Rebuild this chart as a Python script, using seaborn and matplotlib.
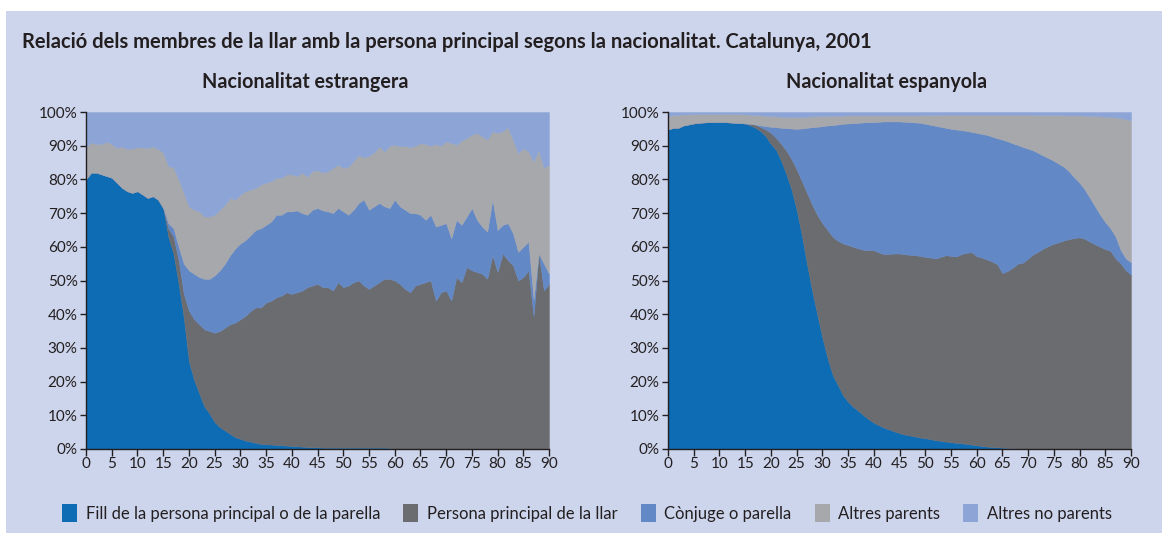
import numpy as np
import matplotlib
matplotlib.use("Agg")
import matplotlib.pyplot as plt
import matplotlib.patches as mpatches
import seaborn as sns

# Cumulative upper edge (%) of each layer, ages 0..90
edats = list(range(0, 91))

# Nacionalitat estrangera
estr_fill = [80, 82, 82, 81.5, 81, 80.5, 79, 77.5, 76.5, 76,
             76.5, 75.5, 74.5, 75, 74, 71.5, 63, 58, 49, 39,
             26, 20.5, 16.5, 12.6, 10.5, 8, 6.5, 5.5, 4.5, 3.5,
             3, 2.5, 2.2, 1.8, 1.5, 1.4, 1.3, 1.2, 1.1, 1,
             0.9, 0.8, 0.7, 0.6, 0.5, 0.5, 0.4, 0.4, 0.4, 0.4,
             0.4, 0.4, 0.4, 0.4, 0.4, 0.4, 0.4, 0.4, 0.4, 0.3,
             0, 0, 0, 0, 0, 0, 0, 0, 0, 0,
             0, 0, 0, 0, 0, 0, 0, 0, 0, 0,
             0, 0, 0, 0, 0, 0, 0, 0, 0, 0, 0]
estr_principal = [80, 82, 82, 81.5, 81, 80.5, 79, 77.5, 76.5, 76,
                  76.5, 75.5, 74.5, 75, 74, 71.5, 65.5, 63, 56, 46,
                  41, 38.5, 37, 35.5, 35, 34.5, 35, 36, 37, 37.5,
                  38.5, 39.5, 41, 42, 42, 43.5, 44, 45, 45.5, 46.5,
                  46, 46.5, 47, 48, 48.5, 49, 48, 48, 47, 49.5,
                  48, 48.5, 49.5, 50, 48.5, 47.5, 48.5, 49.5, 50.5, 50.5,
                  50, 49, 47.5, 46.5, 48.5, 49, 49.5, 50, 44, 46.5,
                  47, 44, 51, 49.5, 54, 53, 52.5, 52, 50.5, 57.5,
                  52.5, 58, 56, 54.5, 50, 51, 53, 39.5, 58, 47, 49]
estr_conjuge = [80, 82, 82, 81.5, 81, 80.5, 79, 77.5, 76.5, 76,
                76.5, 75.5, 74.5, 75, 74, 71.5, 67, 65.5, 60, 55,
                53, 52, 51, 50.5, 50.5, 51.5, 53, 55, 57.5, 59.5,
                61, 62, 63.5, 65, 65.5, 66.5, 67.5, 69.5, 69.5, 70.5,
                70.5, 70.8, 70, 69.5, 71, 71.5, 70.8, 70.5, 70, 71.5,
                70.5, 69.5, 71, 73, 74, 71, 72, 73, 72, 71.5,
                74, 72, 71, 70, 70, 69.5, 68, 69.5, 66, 66.5,
                67, 62.5, 68, 66.5, 69, 71.5, 68, 66, 64.5, 74,
                65, 66.5, 67, 64, 58.5, 60, 61.5, 44.5, 58, 55, 52]
estr_parents = [89.5, 91, 90.5, 90.5, 91.2, 90.5, 89.3, 89.8, 89, 89.2,
                89.5, 89.5, 89.3, 89.8, 89, 88, 84, 83.5, 80, 76,
                72, 71, 70.5, 69, 69, 69.5, 71, 72.5, 74.5, 74,
                75.5, 76.5, 77, 77.5, 78.5, 79, 79.5, 80.5, 80.5, 81.5,
                81.5, 81, 82, 80.8, 82.5, 82.7, 82, 82.4, 83.4, 84.4,
                83.4, 83.8, 85.5, 87.3, 86.5, 87, 88, 89.8, 88.3, 90,
                90.3, 89.8, 90, 89.5, 90, 90.8, 90.5, 90, 90.5, 90,
                91.3, 90.8, 90.3, 91.5, 92.3, 93.3, 93.8, 92.8, 91.8, 94.3,
                93.8, 94.3, 95.5, 91.8, 87.8, 89.3, 88.3, 85.3, 88.8, 83.4, 84.4]

# Nacionalitat espanyola
esp_fill = [94.8, 95.3, 95.3, 96, 96.3, 96.6, 96.8, 96.9, 97, 97,
            97, 97, 96.9, 96.8, 96.7, 96.6, 96, 95.3, 94.3, 92.8,
            90.5, 88.8, 85.5, 81.5, 77, 71, 63.5, 55, 47, 40,
            33, 27, 22, 19, 16, 14, 12.5, 11.3, 10, 8.8,
            7.8, 7, 6.3, 5.8, 5.2, 4.7, 4.3, 4, 3.7, 3.4,
            3.2, 2.9, 2.6, 2.4, 2.2, 2, 1.8, 1.7, 1.5, 1.3,
            1.1, 0.9, 0.7, 0.6, 0.5, 0.4, 0.3, 0.2, 0.15, 0.1,
            0, 0, 0, 0, 0, 0, 0, 0, 0, 0,
            0, 0, 0, 0, 0, 0, 0, 0, 0, 0, 0]
esp_principal = [94.8, 95.3, 95.3, 96, 96.3, 96.6, 96.8, 96.9, 97, 97,
                 97, 97, 96.9, 96.8, 96.7, 96.6, 96.5, 96.2, 95.5, 94.8,
                 93.8, 92.3, 90.5, 88.5, 86, 83, 79.5, 76, 72.5, 69.5,
                 67, 65, 63, 61.8, 61, 60.5, 60, 59.5, 59.1, 59,
                 59, 58.3, 57.8, 57.9, 58, 58, 57.8, 57.6, 57.5, 57.3,
                 57, 56.8, 56.5, 57, 57.5, 57.3, 57.1, 57.8, 58.2, 58.4,
                 57.2, 56.8, 56.2, 55.6, 54.8, 52.2, 52.8, 53.8, 55, 55.3,
                 56.5, 57.8, 58.6, 59.5, 60.3, 60.9, 61.4, 61.9, 62.3, 62.6,
                 62.8, 62.4, 61.5, 60.7, 60, 59.3, 58.8, 56.5, 55, 53, 51.7]
esp_conjuge = [94.8, 95.3, 95.3, 96, 96.3, 96.6, 96.8, 96.9, 97, 97,
               97, 97, 96.9, 96.8, 96.7, 96.6, 96.5, 96.3, 96, 95.8,
               95.6, 95.5, 95.3, 95.2, 95.1, 95, 95.1, 95.3, 95.5, 95.6,
               95.8, 96, 96.1, 96.3, 96.5, 96.6, 96.7, 96.8, 96.9, 97,
               97, 97.1, 97.2, 97.2, 97.2, 97.2, 97.1, 97, 96.9, 96.8,
               96.5, 96.2, 95.9, 95.6, 95.3, 95, 94.8, 94.6, 94.4, 94.1,
               93.8, 93.5, 93.2, 92.7, 92.2, 91.8, 91.3, 90.7, 90.2, 89.6,
               89.1, 88.6, 87.8, 87, 86.3, 85.5, 84.6, 83.7, 82.3, 80.5,
               79, 77, 74.5, 72, 69.5, 67.3, 65.5, 63, 59, 56.5, 55.4]
esp_parents = [98.7, 99.1, 99.2, 99.3, 99.3, 99.4, 99.4, 99.4, 99.4, 99.4,
               99.4, 99.4, 99.4, 99.4, 99.4, 99.3, 99.2, 99.1, 99, 98.9,
               98.8, 98.7, 98.6, 98.5, 98.5, 98.5, 98.5, 98.6, 98.7, 98.8,
               98.8, 98.9, 98.9, 98.9, 98.9, 99, 99, 99, 99, 99,
               99, 99, 99, 99, 99, 99, 99, 99, 99, 99,
               99.1, 99.1, 99.1, 99.2, 99.2, 99.2, 99.2, 99.2, 99.2, 99.2,
               99.2, 99.2, 99.2, 99.2, 99.2, 99.2, 99.2, 99.2, 99.2, 99.2,
               99.2, 99.2, 99.1, 99.1, 99.1, 99.1, 99.1, 99, 99, 99,
               99, 98.9, 98.9, 98.8, 98.7, 98.6, 98.5, 98.4, 98.2, 97.9, 97.5]

categories = ["Fill de la persona principal o de la parella",
              "Persona principal de la llar",
              "Cònjuge o parella",
              "Altres parents",
              "Altres no parents"]
colors = ["#0d6cb4", "#6b6c70", "#6388c6", "#a7a8ac", "#8ca5d6"]
subtitles = ["Nacionalitat estrangera", "Nacionalitat espanyola"]
title = "Relació dels membres de la llar amb la persona principal segons la nacionalitat. Catalunya, 2001"

bg = "#cdd5ec"
ink = "#231f20"

sns.set_style("ticks")
plt.rcParams["font.family"] = ["Lato", "DejaVu Sans"]

fig = plt.figure(figsize=(11.62, 5.34), dpi=100)
fig.patch.set_facecolor("white")

# lavender panel behind everything
back = fig.add_axes([6 / 1162, 1 / 534, 1, 522 / 534], zorder=-10)
back.set_facecolor(bg)
back.set_xticks([])
back.set_yticks([])
for s in back.spines.values():
    s.set_visible(False)

fig.text(22 / 1162, 1 - 42 / 534, title, fontsize=14.5, fontweight="bold",
         color=ink, ha="left", va="center")

panels = [
    [estr_fill, estr_principal, estr_conjuge, estr_parents],
    [esp_fill, esp_principal, esp_conjuge, esp_parents],
]
lefts = [86, 668]
for k, tops in enumerate(panels):
    ax = fig.add_axes([lefts[k] / 1162, 1 - 449 / 534, 463 / 1162, 337 / 534])
    ax.set_facecolor(bg)
    edges = [np.zeros(len(edats))] + [np.array(t, dtype=float) for t in tops] + [np.full(len(edats), 100.0)]
    for i in range(5):
        ax.fill_between(edats, edges[i], edges[i + 1], facecolor=colors[i],
                        edgecolor=colors[i], linewidth=0.3, zorder=2)
    ax.set_xlim(0, 90)
    ax.set_ylim(0, 100)
    ax.set_xticks(range(0, 91, 5))
    ax.set_yticks(range(0, 101, 10))
    ax.set_yticklabels([f"{v}%" for v in range(0, 101, 10)])
    sns.despine(ax=ax)
    for s in ["left", "bottom"]:
        ax.spines[s].set_color(ink)
        ax.spines[s].set_linewidth(1.0)
        ax.spines[s].set_zorder(3)
    ax.tick_params(axis="both", colors=ink, labelsize=11, width=1.0, length=4, pad=2)
    ax.tick_params(axis="x", length=5, pad=1)
    fig.text((lefts[k] + 219) / 1162, 1 - 82 / 534, subtitles[k],
             fontsize=14.2, fontweight="bold", color=ink, ha="center", va="center")

handles = [mpatches.Patch(facecolor=c, edgecolor="none") for c in colors]
fig.legend(handles, categories, loc="center", ncol=5, frameon=False,
           bbox_to_anchor=(587 / 1162, 1 - 513 / 534), fontsize=12,
           handlelength=0.9, handleheight=1.3, handletextpad=0.5,
           columnspacing=1.4, labelcolor=ink)

fig.savefig("out.png", dpi=100, facecolor=fig.get_facecolor())
